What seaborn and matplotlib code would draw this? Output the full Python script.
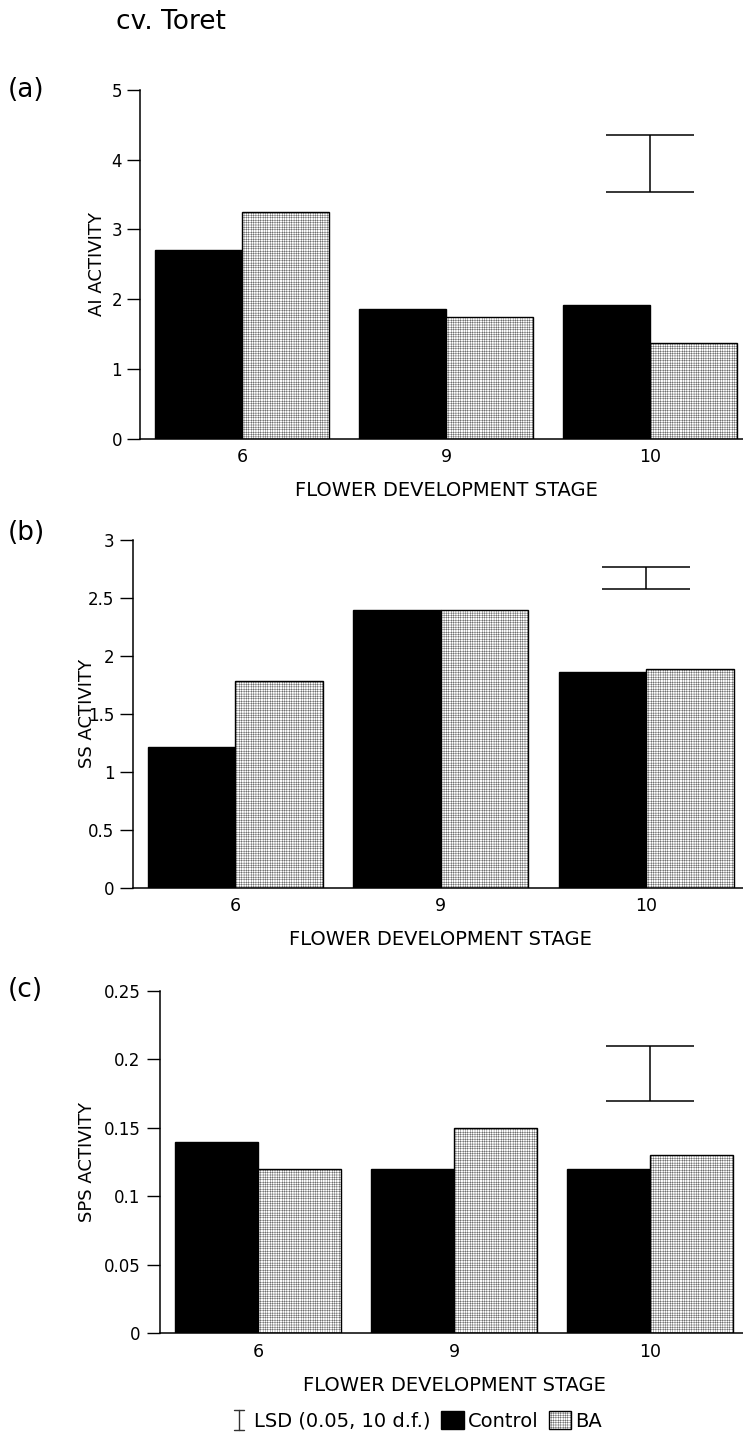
import numpy as np
import pandas as pd
import matplotlib
matplotlib.use("Agg")
import matplotlib.pyplot as plt
from matplotlib.lines import Line2D
from matplotlib.patches import Patch
from matplotlib.legend_handler import HandlerBase
from matplotlib.ticker import FormatStrFormatter
import seaborn as sns

# ---- data -------------------------------------------------------------
stages = ["6", "9", "10"]
treatments = ["Control", "BA"]

ai_control = [2.70, 1.86, 1.91]
ai_ba = [3.25, 1.74, 1.37]

ss_control = [1.21, 2.40, 1.86]
ss_ba = [1.78, 2.40, 1.89]

sps_control = [0.14, 0.12, 0.12]
sps_ba = [0.12, 0.15, 0.13]

ai_ticks = [0, 1, 2, 3, 4, 5]
ss_ticks = [0, 0.5, 1, 1.5, 2, 2.5, 3]
sps_ticks = [0, 0.05, 0.1, 0.15, 0.2, 0.25]

# least significant difference bars: lower end and length
lsd_low = [3.53, 2.58, 0.17]
lsd_size = [0.83, 0.19, 0.04]

panel_tags = ["(a)", "(b)", "(c)"]
ylabels = ["AI ACTIVITY", "SS ACTIVITY", "SPS ACTIVITY"]
xlabel = "FLOWER DEVELOPMENT STAGE"

# ---- style ------------------------------------------------------------
sns.set_theme(style="ticks")
plt.rcParams["font.family"] = ["DejaVu Sans"]
plt.rcParams["hatch.linewidth"] = 0.2
BA_HATCH = "+++++++"

W, H = 743, 1438
fig = plt.figure(figsize=(W / 100, H / 100), dpi=100)
fig.patch.set_facecolor("white")

# panel geometry in pixels: left axis x, category spacing, top y, zero y, label x
geometry = [
    (140, 204, 90, 438.5, 97),
    (132.5, 205.5, 540, 887.7, 87),
    (160, 196, 991, 1333.3, 86.5),
]

controls = [ai_control, ss_control, sps_control]
bas = [ai_ba, ss_ba, sps_ba]
ticks = [ai_ticks, ss_ticks, sps_ticks]
tag_y = [90, 533, 990]
tick_pad = [3.6, 3.6, 4.8]

for i in range(3):
    left, spacing, ytop, yzero, ylab_x = geometry[i]
    width_px = 3 * spacing
    height_px = yzero - ytop
    ax = fig.add_axes([left / W, (H - yzero) / H, width_px / W, height_px / H])
    ax.set_facecolor("none")

    df = pd.DataFrame({
        "stage": stages * 2,
        "treatment": ["Control"] * 3 + ["BA"] * 3,
        "value": list(controls[i]) + list(bas[i]),
    })
    sns.barplot(data=df, x="stage", y="value", hue="treatment",
                order=stages, hue_order=treatments,
                palette={"Control": "black", "BA": "white"},
                width=0.85, gap=0, edgecolor="black", linewidth=1.0,
                legend=False, ax=ax, zorder=2)
    for bar in ax.containers[1]:
        bar.set_hatch(BA_HATCH)

    # LSD bar over the last stage
    ax.errorbar([2], [lsd_low[i] + lsd_size[i] / 2], yerr=[lsd_size[i] / 2],
                fmt="none", ecolor="black", elinewidth=1.1,
                capsize=31.5, capthick=1.1, zorder=3)

    ax.set_xlim(-0.5, 2.5)
    ax.set_ylim(ticks[i][0], ticks[i][-1])
    ax.set_yticks(ticks[i])
    ax.yaxis.set_major_formatter(FormatStrFormatter("%g"))
    ax.tick_params(axis="y", length=9.4, width=1.0, pad=tick_pad[i],
                   labelsize=12, color="black", labelcolor="black")
    ax.tick_params(axis="x", length=0, pad=7, labelsize=12.5, labelcolor="black")

    sns.despine(ax=ax)
    for s in ("left", "bottom"):
        ax.spines[s].set_linewidth(1.1)
        ax.spines[s].set_color("black")

    ax.set_xlabel(xlabel, fontsize=14, color="black", va="center")
    ax.xaxis.set_label_coords(0.5, -52 / height_px)
    ax.set_ylabel(ylabels[i], fontsize=13, color="black", va="center")
    ax.yaxis.set_label_coords((ylab_x - left) / width_px, 0.5)

    fig.text(8 / W, 1 - tag_y[i] / H, panel_tags[i], fontsize=19,
             va="center", ha="left", color="black")

fig.text(116 / W, 1 - 29 / H, "cv. Toret", fontsize=19, va="baseline",
         ha="left", color="black")


class IBeamHandler(HandlerBase):
    """Draws the LSD key as a small I-beam."""

    def create_artists(self, legend, orig_handle, xdescent, ydescent,
                       width, height, fontsize, trans):
        cx = width / 2 - xdescent
        y0 = -ydescent - 0.1 * height
        y1 = height - ydescent + 0.1 * height
        hw = 0.22 * width
        arts = [
            Line2D([cx, cx], [y0, y1]),
            Line2D([cx - hw, cx + hw], [y0, y0]),
            Line2D([cx - hw, cx + hw], [y1, y1]),
        ]
        for a in arts:
            a.set_color("#333333")
            a.set_linewidth(1.0)
            a.set_transform(trans)
        return arts


lsd_handle = Line2D([], [])
handles = [
    lsd_handle,
    Patch(facecolor="black", edgecolor="black", linewidth=1.0),
    Patch(facecolor="white", edgecolor="black", linewidth=1.0, hatch=BA_HATCH),
]
labels = ["LSD (0.05, 10 d.f.)", "Control", "BA"]
fig.legend(handles, labels, handler_map={lsd_handle: IBeamHandler()},
           loc="center", bbox_to_anchor=(415 / W, 1 - 1421 / H),
           ncol=3, frameon=False, fontsize=14,
           handlelength=1.15, handleheight=1.0, handletextpad=0.2,
           columnspacing=0.55, borderpad=0, labelcolor="black")

fig.savefig("out.png", dpi=100, facecolor="white")
